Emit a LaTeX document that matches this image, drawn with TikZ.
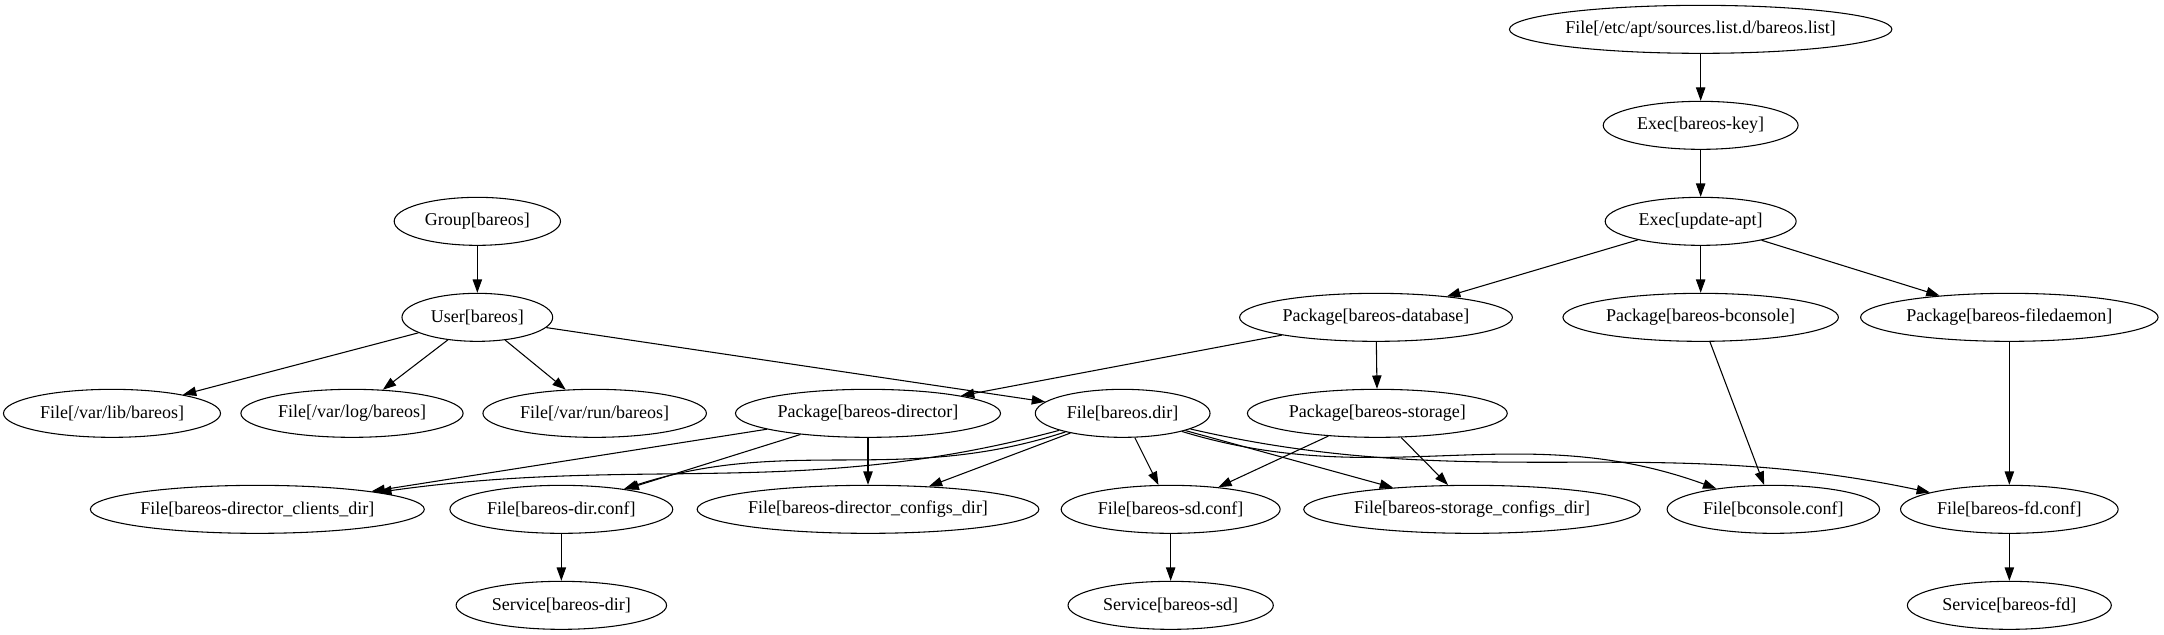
\documentclass[tikz,border=0pt]{standalone}
\usepackage{fontspec}
\setmainfont{Liberation Serif}
\usetikzlibrary{arrows.meta,shapes.geometric}

\begin{document}
\begin{tikzpicture}[x=1pt,y=-1pt,
	res/.style={draw, ellipse, line width=0.8pt, minimum height=36pt, inner xsep=0pt, inner ysep=1pt, minimum width={1.3*\wd\pgfnodeparttextbox+22.4pt}, font=\fontsize{13.5}{16}\selectfont},
	dep/.style={-{Triangle[length=10pt,width=7pt]}, line width=0.8pt}] %Início do desenho
	\useasboundingbox (0,0) rectangle (1623,476.25);
		%Repositorio
	\node[res] (srclist) at (1275.5,22) {File[/etc/apt/sources.list.d/bareos.list]};
	\node[res] (key) at (1275.5,94) {Exec[bareos-key]};
	\node[res] (apt) at (1275.5,166) {Exec[update-apt]};
		%Usuario e grupo
	\node[res] (group) at (358,166) {Group[bareos]};
	\node[res] (user) at (358,238) {User[bareos]};
		%Pacotes
	\node[res] (pkgdb) at (1032,238) {Package[bareos-database]};
	\node[res] (pkgcon) at (1275.5,238) {Package[bareos-bconsole]};
	\node[res] (pkgfd) at (1507,238) {Package[bareos-filedaemon]};
	\node[res] (pkgdir) at (651,310) {Package[bareos-director]};
	\node[res] (pkgsd) at (1033,310) {Package[bareos-storage]};
		%Diretorios
	\node[res] (varlib) at (84,310) {File[/var/lib/bareos]};
	\node[res] (varlog) at (264,310) {File[/var/log/bareos]};
	\node[res] (varrun) at (446,310) {File[/var/run/bareos]};
	\node[res] (bdir) at (842,310) {File[bareos.dir]};
		%Configuracoes
	\node[res] (clients) at (193,382) {File[bareos-director\_clients\_dir]};
	\node[res] (dirconf) at (421,382) {File[bareos-dir.conf]};
	\node[res] (configs) at (651,382) {File[bareos-director\_configs\_dir]};
	\node[res] (sdconf) at (878,382) {File[bareos-sd.conf]};
	\node[res] (sdcfgs) at (1104,382) {File[bareos-storage\_configs\_dir]};
	\node[res] (conconf) at (1330,382) {File[bconsole.conf]};
	\node[res] (fdconf) at (1507,382) {File[bareos-fd.conf]};
		%Servicos
	\node[res] (svcdir) at (421,454) {Service[bareos-dir]};
	\node[res] (svcsd) at (878,454) {Service[bareos-sd]};
	\node[res] (svcfd) at (1507,454) {Service[bareos-fd]};
		%Dependencias
	\draw[dep] (srclist) -- (key);
	\draw[dep] (key) -- (apt);
	\draw[dep] (apt) -- (pkgdb);
	\draw[dep] (apt) -- (pkgcon);
	\draw[dep] (apt) -- (pkgfd);
	\draw[dep] (group) -- (user);
	\draw[dep] (user) -- (varlib);
	\draw[dep] (user) -- (varlog);
	\draw[dep] (user) -- (varrun);
	\draw[dep] (user) -- (bdir);
	\draw[dep] (pkgdb) -- (pkgdir);
	\draw[dep] (pkgdb) -- (pkgsd);
	\draw[dep] (pkgcon) -- (conconf);
	\draw[dep] (pkgfd) -- (fdconf);
	\draw[dep] (pkgdir) -- (clients);
	\draw[dep] (pkgdir) -- (dirconf);
	\draw[dep] (pkgdir) -- (configs);
	\draw[dep] (bdir) to[out=195,in=8] (clients);
	\draw[dep] (bdir) to[out=198,in=18] (dirconf);
	\draw[dep] (bdir) -- (configs);
	\draw[dep] (bdir) -- (sdconf);
	\draw[dep] (bdir) -- (sdcfgs);
	\draw[dep] (bdir) to[out=-17,in=160] (conconf);
	\draw[dep] (bdir) to[out=-13,in=168] (fdconf);
	\draw[dep] (pkgsd) -- (sdconf);
	\draw[dep] (pkgsd) -- (sdcfgs);
	\draw[dep] (dirconf) -- (svcdir);
	\draw[dep] (sdconf) -- (svcsd);
	\draw[dep] (fdconf) -- (svcfd);
\end{tikzpicture}
\end{document}
